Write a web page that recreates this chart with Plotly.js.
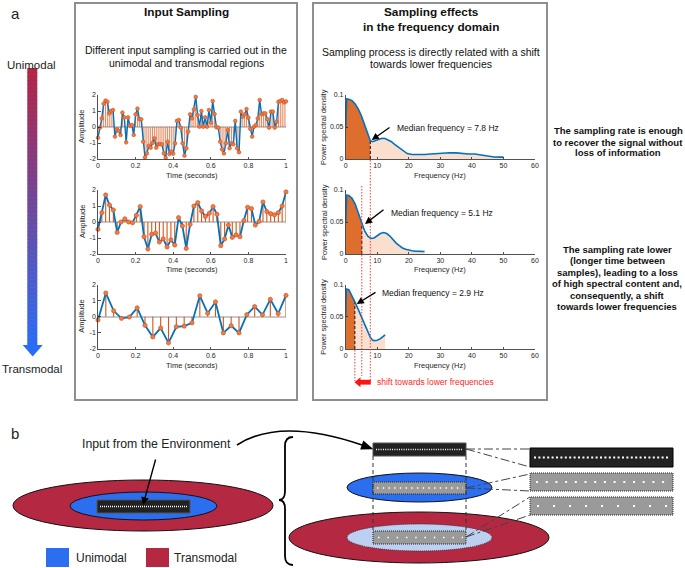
<!DOCTYPE html>
<html><head><meta charset="utf-8">
<script src="https://cdn.plot.ly/plotly-3.0.1.min.js"></script>
<style>html,body{margin:0;padding:0;background:#fff}#chart{width:685px;height:568px}</style>
</head><body><div id="chart"></div>
<script>
// ---------------- DATA ----------------
const sig1 = [-0.67,-0.04,0.54,1.46,1.65,1.58,0.85,1.0,1.06,-0.6,-0.15,-0.25,-0.5,0.9,0.6,-0.96,0.6,0.08,0.12,-0.5,
  0.79,1.15,0.5,0.48,-0.92,-1.9,-1.65,-1.17,-1.29,-1.0,-0.71,-1.29,-1.08,-1.08,-1.08,-1.65,-1.92,-0.92,-1.69,-1.54,
  -1.67,-1.02,0.38,0.44,-0.04,-1.02,-1.79,-1.33,-0.29,0.79,0.54,1.1,1.88,0.75,0.02,1.0,0.02,0.6,0.02,1.06,
  0.27,1.62,0.81,-0.02,-0.04,-0.92,-1.4,-1.65,-1.02,-0.19,-1.33,-1.02,-1.08,0.38,-1.33,-1.58,0.96,0.65,0.79,1.12,
  0.58,-0.12,-0.6,0.02,0.12,0.54,1.69,0.79,0.85,0.85,0.5,-0.04,0.96,0.96,-0.04,0.33,1.58,1.62,1.69,1.54,1.6];
const sig2 = [-0.46,0.58,1.69,1.06,0.75,-0.65,0.0,0.2,0.0,-0.05,0.42,0.96,-0.92,-1.69,-0.77,-0.69,-1.25,-1.06,-1.56,-1.12,
  -1.44,0.27,-0.25,-1.65,-0.15,1.0,1.21,0.69,0.35,0.54,0.96,0.48,-1.48,-1.06,-0.19,-0.96,-0.81,-0.92,0.08,0.92,
  0.83,-0.19,0.04,1.25,0.65,0.52,0.45,0.58,1.0,1.88];
const sig3 = [-0.2,1.47,0.37,-0.1,-0.02,0.55,-0.53,-1.25,-0.7,-1.62,-0.62,-0.58,-0.38,1.3,0.22,0.92,-1.0,-0.56,-1.0,0.13,
  0.63,0.12,1.08,0.2,1.32];

const freq1 = [0,0.3,1,2,3,4,5,6,7,7.8,8.5,9.5,10.5,11.5,12.5,13.5,14.5,15.5,16.5,17.5,18.5,19.5,21,23,25,27,29,31,33,35,37,39,41,43,45,47,49,50];
const psd1  = [0.048,0.094,0.0935,0.091,0.086,0.078,0.067,0.053,0.038,0.0285,0.027,0.029,0.0315,0.0325,0.032,0.030,0.027,0.023,0.019,0.015,0.011,0.0085,0.007,0.0068,0.007,0.0078,0.0088,0.0095,0.0098,0.0095,0.0085,0.0078,0.0078,0.0065,0.0042,0.0032,0.003,0.003];
const freq2 = [0,0.3,1,2,3,4,5,6,7,8,9,10,11,12,13,14,15,16,17,18,19,20,21,22,23,24,25];
const psd2  = [0.05,0.092,0.0915,0.087,0.078,0.064,0.049,0.036,0.028,0.0245,0.025,0.028,0.032,0.0335,0.032,0.028,0.022,0.017,0.013,0.0095,0.0075,0.006,0.005,0.0045,0.0042,0.004,0.004];
const freq3 = [0,0.2,1,2,3,4,5,6,7,7.8,8.5,9,10,11,12,12.5];
const psd3  = [0.05,0.093,0.092,0.083,0.072,0.061,0.049,0.037,0.026,0.018,0.014,0.013,0.0135,0.016,0.02,0.022];

const medians = [7.8, 5.1, 2.9];
const medianLabels = ['Median frequency = 7.8 Hz','Median frequency = 5.1 Hz','Median frequency = 2.9 Hz'];

const timeTicks = [0,0.2,0.4,0.6,0.8,1];
const timeTickText = ['0','0.2','0.4','0.6','0.8','1'];
const ampTicks = [-2,-1,0,1,2];
const ampTickText = ['-2','-1','0','1','2'];
const freqTicks = [0,10,20,30,40,50,60];
const psdTicks = [0,0.05,0.1];
const psdTickText = ['0','0.05','0.1'];

// ---------------- HELPERS ----------------
const W = 685, H = 568;
const X = p => p / W, Y = p => 1 - p / H;
const FONT = 'Liberation Sans, Arial, sans-serif';
const BLUE = 'rgb(0,114,189)', ORANGE = 'rgb(217,83,25)';

const sigs = [sig1, sig2, sig3];
const freqs = [freq1, freq2, freq3];
const psds = [psd1, psd2, psd3];
const rowsY = [[95,159],[190,254],[284.5,349]];
const timeDomX = [98,286], freqDomX = [345.7,535];

function interp(xs, ys, x) {
  for (let i = 0; i < xs.length - 1; i++) {
    if (x >= xs[i] && x <= xs[i+1]) {
      const r = (x - xs[i]) / (xs[i+1] - xs[i]);
      return ys[i] + r * (ys[i+1] - ys[i]);
    }
  }
  return ys[ys.length-1];
}

const traces = [];
const layout = {
  width: W, height: H, margin: {l:0,r:0,t:0,b:0},
  paper_bgcolor: '#fff', plot_bgcolor: 'rgba(0,0,0,0)',
  showlegend: false, font: {family: FONT, color: '#262626'},
  shapes: [], annotations: []
};

const axBase = {
  showline: true, linecolor: '#262626', linewidth: 0.8, ticks: 'inside', ticklen: 2.5,
  tickcolor: '#262626', tickwidth: 0.8, showgrid: false, zeroline: false,
  tickfont: {size: 7, family: FONT, color: '#262626'}, fixedrange: true
};

const small = {size: 7.5, family: FONT, color: '#262626'};
for (let i = 0; i < 3; i++) {
  const ti = i + 1, fi = i + 4;
  const xt = 'x' + (ti === 1 ? '' : ti), yt = 'y' + (ti === 1 ? '' : ti);
  const xf = 'x' + fi, yf = 'y' + fi;
  const yd = [Y(rowsY[i][1]), Y(rowsY[i][0])];
  layout['xaxis' + (ti === 1 ? '' : ti)] = Object.assign({}, axBase, {
    domain: [X(timeDomX[0]), X(timeDomX[1])], range: [0,1], anchor: yt,
    tickvals: timeTicks, ticktext: timeTickText});
  layout['yaxis' + (ti === 1 ? '' : ti)] = Object.assign({}, axBase, {
    domain: yd, range: [-2,2], anchor: xt, tickvals: ampTicks, ticktext: ampTickText,
    zeroline: true, zerolinecolor: '#c8c8c8', zerolinewidth: 1.5});
  layout['xaxis' + fi] = Object.assign({}, axBase, {
    domain: [X(freqDomX[0]), X(freqDomX[1])], range: [0,60], anchor: yf, tickvals: freqTicks});
  layout['yaxis' + fi] = Object.assign({}, axBase, {
    domain: yd, range: [0,0.1], anchor: xf, tickvals: psdTicks, ticktext: psdTickText});

  // time-domain signal
  const v = sigs[i];
  const n = v.length;
  const t = v.map((_, k) => k / (n - 1));
  const sx = [], sy = [];
  t.forEach((tt, k) => { sx.push(tt, tt, null); sy.push(0, v[k], null); });
  traces.push({x: sx, y: sy, xaxis: xt, yaxis: yt, mode: 'lines', hoverinfo: 'skip',
    line: {color: ORANGE, width: i === 0 ? 0.9 : 1.1}, opacity: i === 0 ? 0.75 : 1});
  traces.push({x: t, y: v, xaxis: xt, yaxis: yt, mode: 'lines',
    line: {color: BLUE, width: i === 0 ? 1.4 : 1.8}});
  traces.push({x: t, y: v, xaxis: xt, yaxis: yt, mode: 'markers', cliponaxis: false,
    marker: {size: i === 0 ? 3.6 : 4.2, color: 'rgb(235,125,75)', line: {color: ORANGE, width: 0.7}}});

  // frequency domain
  const f = freqs[i], p = psds[i], m = medians[i];
  const pm = interp(f, p, m);
  const dx = [], dy = [], lx = [m], ly = [pm];
  f.forEach((ff, k) => { if (ff < m) { dx.push(ff); dy.push(p[k]); } if (ff > m) { lx.push(ff); ly.push(p[k]); } });
  dx.push(m); dy.push(pm);
  traces.push({x: lx, y: ly, xaxis: xf, yaxis: yf, mode: 'lines', fill: 'tozeroy',
    fillcolor: 'rgb(250,222,206)', line: {width: 0}});
  traces.push({x: dx, y: dy, xaxis: xf, yaxis: yf, mode: 'lines', fill: 'tozeroy',
    fillcolor: 'rgb(221,110,45)', line: {width: 0}});
  traces.push({x: [m, m], y: [0, pm], xaxis: xf, yaxis: yf, mode: 'lines',
    line: {color: '#111', width: 1, dash: '3px,2px'}});
  traces.push({x: f, y: p, xaxis: xf, yaxis: yf, mode: 'lines', line: {color: BLUE, width: 1.6}});

  // axis titles (as annotations for placement)
  const cy = (rowsY[i][0] + rowsY[i][1]) / 2;
  const base = {xref:'paper', yref:'paper', showarrow: false, xanchor: 'center', yanchor: 'middle', font: small};
  layout.annotations.push(Object.assign({}, base, {x: X(82), y: Y(cy), text: 'Amplitude', textangle: -90}));
  layout.annotations.push(Object.assign({}, base, {x: X(192), y: Y(rowsY[i][1] + 16), text: 'Time (seconds)'}));
  layout.annotations.push(Object.assign({}, base, {x: X(324), y: Y(cy), text: 'Power spectral density', textangle: -90}));
  layout.annotations.push(Object.assign({}, base, {x: X(440), y: Y(rowsY[i][1] + 16), text: 'Frequency (Hz)'}));
}

// ---------------- ANNOTATIONS ----------------
function txt(x, y, text, size, o) {
  o = o || {};
  layout.annotations.push(Object.assign({xref:'paper', yref:'paper', x: X(x), y: Y(y), text: text,
    showarrow: false, xanchor: 'center', yanchor: 'middle',
    font: {size: size, family: FONT, color: o.color || '#111'}}, o.extra || {}));
}
function arrow(tipx, tipy, tailx, taily, color, w) {
  layout.annotations.push({xref:'paper', yref:'paper', x: X(tipx), y: Y(tipy), text: '', showarrow: true,
    ax: tailx - tipx, ay: taily - tipy, arrowhead: 2, arrowsize: 1.1, arrowwidth: w || 1.3,
    arrowcolor: color || '#000', standoff: 0, startstandoff: 0});
}

txt(15, 14, 'a', 15, {color: '#222'});
txt(32, 65, 'Unimodal', 11.5, {color: '#222'});
txt(32, 369, 'Transmodal', 11.5, {color: '#222'});

txt(186, 12, '<b>Input Sampling</b>', 11.8);
txt(186, 50, 'Different input sampling is carried out in the', 10.5);
txt(186, 63, 'unimodal and transmodal regions', 10.5);

txt(431, 12, '<b>Sampling effects</b>', 11.8);
txt(431, 27, '<b>in the frequency domain</b>', 11.8);
txt(431, 52, 'Sampling process is directly related with a shift', 10.5);
txt(431, 64, 'towards lower frequencies', 10.5);

const rt1 = ['The sampling rate is enough','to recover the signal without','loss of information'];
rt1.forEach((s, k) => txt(618, 131 + k * 11, '<b>' + s + '</b>', 9.5));
const rt2 = ['The sampling rate lower','(longer time between','samples), leading to a loss','of high spectral content and,','consequently, a shift','towards lower frequencies'];
rt2.forEach((s, k) => txt(617, 249 + k * 11.5, '<b>' + s + '</b>', 9.5));

const medTxt = [[395,128],[389,212.7],[380,292.7]];
const medArrow = [[371.7,140,391,126.5],[365,224,385,208.5],[356.7,304,377,291.5]];
for (let i = 0; i < 3; i++) {
  txt(medTxt[i][0], medTxt[i][1], medianLabels[i], 8.5, {extra: {xanchor: 'left'}});
  arrow(medArrow[i][0], medArrow[i][1], medArrow[i][2], medArrow[i][3]);
}
txt(375, 382, 'shift towards lower frequencies', 8.5, {color: 'rgb(255,40,40)', extra: {xanchor: 'left'}});

// part b texts
txt(15, 433, 'b', 15, {color: '#222'});
txt(156, 444, 'Input from the Environment', 12.3, {color: '#222'});
arrow(143, 505, 156, 458, '#000', 1.4);
txt(74, 558, 'Unimodal', 12, {color: '#222', extra: {xanchor: 'left'}});
txt(172, 558, 'Transmodal', 12, {color: '#222', extra: {xanchor: 'left'}});

// ---------------- SHAPES ----------------
const S = layout.shapes;
function rect(x0,y0,x1,y1,fill,line,extra) {
  S.push(Object.assign({type:'rect', xref:'paper', yref:'paper', x0:X(x0), x1:X(x1), y0:Y(y1), y1:Y(y0),
    fillcolor: fill || 'rgba(0,0,0,0)', line: line || {width:0}}, extra||{}));
}
function ell(x0,y0,x1,y1,fill,line) {
  S.push({type:'circle', xref:'paper', yref:'paper', x0:X(x0), x1:X(x1), y0:Y(y1), y1:Y(y0),
    fillcolor: fill, line: line});
}
function seg(x0,y0,x1,y1,line) {
  S.push({type:'line', xref:'paper', yref:'paper', x0:X(x0), x1:X(x1), y0:Y(y0), y1:Y(y1), line: line});
}
function path(cmds, fill, line) {
  const d = cmds.map(c => c[0] + ' ' + c.slice(1).map((v, k) => (k % 2 === 0 ? X(v) : Y(v)).toFixed(5)).join(' ')).join(' ');
  S.push({type:'path', xref:'paper', yref:'paper', path: d, fillcolor: fill || 'rgba(0,0,0,0)', line: line || {width:0}});
}

// panel boxes
rect(75,3,297,400,null,{color:'#8f8f8f', width:2});
rect(313,3,547,400,null,{color:'#8f8f8f', width:2});

// gradient arrow (Unimodal -> Transmodal)
const c0 = [178,38,70], c1 = [43,108,245];
const nSl = 70, yA = 68, yB = 347;
for (let k = 0; k < nSl; k++) {
  const r = k / (nSl - 1);
  const col = 'rgb(' + c0.map((c, j) => Math.round(c + (c1[j] - c) * r)).join(',') + ')';
  const ya = yA + (yB - yA) * k / nSl, yb = yA + (yB - yA) * (k + 1) / nSl + 0.6;
  rect(27.3, ya, 37.3, yb, col, {width:0});
}
path([['M',22.7,345],['L',42.7,345],['L',32.7,356.5],['Z']], 'rgb(43,108,245)', {width:0});

// red dotted shift lines
const redLine = {color:'rgb(255,60,60)', width:1, dash:'1.5px,1.5px'};
const fx = f => freqDomX[0] + f * (freqDomX[1] - freqDomX[0]) / 60;
seg(fx(medians[0]), 160, fx(medians[0]), 381, redLine);
seg(fx(medians[1]), 186, fx(medians[1]), 376, redLine);
seg(fx(medians[2]), 350, fx(medians[2]), 381, redLine);
rect(359.5, 379.8, fx(medians[0]) + 0.5, 384.6, 'rgb(255,20,20)', {width:0});
path([['M',354.5,382.2],['L',360.5,377.2],['L',360.5,387.2],['Z']], 'rgb(255,20,20)', {width:0});

// ---- part b (left) ----
ell(13,480,273,531,'rgb(181,40,66)',{color:'#111', width:1});
ell(70,492,217,520,'rgb(43,110,240)',{color:'#111', width:1});
rect(97,500,190,513,'#222',{color:'#555', width:1});
seg(100,506.5,187,506.5,{color:'#fff', width:1.3, dash:'1px,1px'});
rect(46,548,69,567,'rgb(43,110,240)');
rect(146,548,169,567,'rgb(181,40,66)');

// curved arrow and brace
path([['M',237,445],['Q',280,417,362,445]], null, {color:'#000', width:1.6});
path([['M',373.5,449.3],['L',360.2,449.6],['L',363.3,440.6],['Z']], '#000', {width:0});
path([['M',293,437],['Q',285,437,285,446],['L',285,491],['Q',285,500,279,500],['Q',285,500,285,509],['L',285,556],['Q',285,565,293,565]], null, {color:'#000', width:1.8});

// ---- part b (right) ----
ell(347,473,492,502,'rgb(43,110,240)',{color:'#111', width:1});
ell(289,512,549,563,'rgb(181,40,66)',{color:'#111', width:1});
ell(347,524,492,551,'rgb(190,208,242)',{color:'#333', width:1, dash:'1px,1px'});
rect(373,443,466,456,'#222',{color:'#555', width:1});
seg(376,449.5,463,449.5,{color:'#fff', width:1.3, dash:'1px,1.3px'});
rect(373,482,466,494,'#9a9a9a',{color:'#222', width:1, dash:'1px,1px'});
seg(377,488,463,488,{color:'#fff', width:1.5, dash:'1.5px,4.2px'});
rect(373,531,466,544,'#9a9a9a',{color:'#222', width:1, dash:'1px,1px'});
seg(378,537.5,463,537.5,{color:'#fff', width:1.5, dash:'1.5px,7.8px'});
const vdash = {color:'#333', width:1, dash:'4px,3px'};
seg(373,456,373,531,vdash);
seg(466,456,466,531,vdash);

rect(530,448,673,467,'#222',{color:'#000', width:1});
seg(534,457.5,670,457.5,{color:'#fff', width:2, dash:'2px,2.4px'});
rect(530,473,673,491,'#9a9a9a',{color:'#222', width:1, dash:'1px,1px'});
seg(536,482,670,482,{color:'#fff', width:2, dash:'2px,7.7px'});
rect(530,497,673,515,'#9a9a9a',{color:'#222', width:1, dash:'1px,1px'});
seg(537,506,670,506,{color:'#fff', width:2, dash:'2px,14px'});

const dd = {color:'#444', width:1, dash:'dashdot'};
seg(466,449,530,449,dd); seg(466,449,530,467,dd);
seg(466,488,530,474,dd); seg(466,488,530,491,dd);
seg(466,537,530,497,dd); seg(466,537,530,515,dd);

Plotly.newPlot('chart', traces, layout, {staticPlot: true, displayModeBar: false});
</script>
</body></html>
